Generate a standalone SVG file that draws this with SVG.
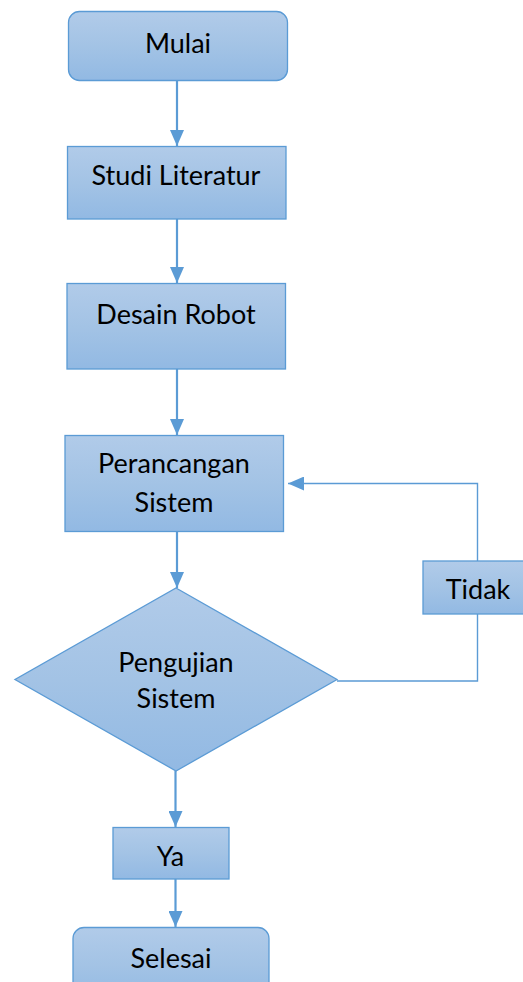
<svg xmlns="http://www.w3.org/2000/svg" width="523" height="982" viewBox="0 0 523 982">
<defs>
<linearGradient id="g" x1="0" y1="0" x2="0" y2="1">
<stop offset="0" stop-color="#b1cbe9"/>
<stop offset="0.5" stop-color="#a3c3e5"/>
<stop offset="1" stop-color="#92b9e3"/>
</linearGradient>
<marker id="ah" markerUnits="userSpaceOnUse" markerWidth="16" markerHeight="14" refX="16" refY="7" orient="auto">
<path d="M0,0 L16,7 L0,14 z" fill="#5b9bd5"/>
</marker>
<style>
.n{fill:url(#g);stroke:#5b9bd5;stroke-width:1.3}
.t{font-family:Lato,"Liberation Sans",sans-serif;font-size:27px;fill:#000;text-anchor:middle}
.c{fill:none;stroke:#5b9bd5;stroke-width:2.2}
.f{fill:none;stroke:#5b9bd5;stroke-width:1.4}
</style>
</defs>
<rect width="523" height="982" fill="#fff"/>
<g id="connectors">
<line class="c" x1="177" y1="81" x2="177" y2="146" marker-end="url(#ah)"/>
<line class="c" x1="177" y1="219" x2="177" y2="283" marker-end="url(#ah)"/>
<line class="c" x1="177" y1="369" x2="177" y2="435" marker-end="url(#ah)"/>
<line class="c" x1="177" y1="532" x2="177" y2="588" marker-end="url(#ah)"/>
<line class="c" x1="175.5" y1="771" x2="175.5" y2="827" marker-end="url(#ah)"/>
<line class="c" x1="175.5" y1="879" x2="175.5" y2="927" marker-end="url(#ah)"/>
<polyline class="f" points="337,681 477.5,681 477.5,483.5 288,483.5" marker-end="url(#ah)"/>
</g>
<g id="mulai">
<rect class="n" x="68.5" y="11.5" width="219" height="69" rx="11"/>
<text class="t" x="178" y="53">Mulai</text>
</g>
<g id="studi-literatur">
<rect class="n" x="67.5" y="146.5" width="218.5" height="72.5"/>
<text class="t" x="176" y="185">Studi Literatur</text>
</g>
<g id="desain-robot">
<rect class="n" x="67" y="283.5" width="218.5" height="85.5"/>
<text class="t" x="176" y="324">Desain Robot</text>
</g>
<g id="perancangan-sistem">
<rect class="n" x="65" y="435.5" width="218.5" height="96"/>
<text class="t" x="174" y="473">Perancangan</text>
<text class="t" x="174" y="511.5">Sistem</text>
</g>
<g id="pengujian-sistem">
<polygon class="n" points="176,588 337,679.5 176,771 15,679.5"/>
<text class="t" x="176" y="672">Pengujian</text>
<text class="t" x="176" y="708">Sistem</text>
</g>
<g id="tidak">
<rect class="n" x="423" y="561" width="101" height="53"/>
<text class="t" x="478" y="599">Tidak</text>
</g>
<g id="ya">
<rect class="n" x="113" y="827.5" width="116" height="51.5"/>
<text class="t" x="170.5" y="866">Ya</text>
</g>
<g id="selesai">
<rect class="n" x="73" y="927.5" width="196" height="75" rx="11"/>
<text class="t" x="171" y="968">Selesai</text>
</g>
</svg>
